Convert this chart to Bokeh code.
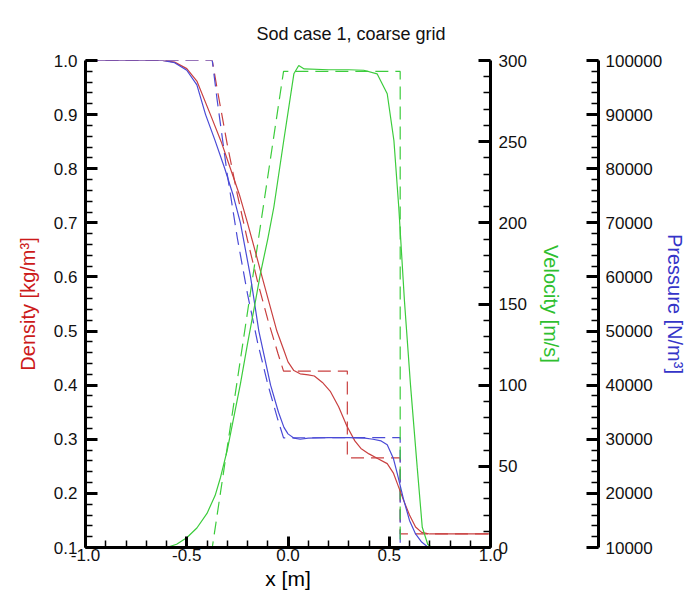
from bokeh.plotting import figure
from bokeh.models import LinearAxis, Range1d, SingleIntervalTicker, FixedTicker, NumeralTickFormatter
from bokeh.embed import file_html
from bokeh.resources import INLINE

TITLE = "Sod case 1, coarse grid"

# ---- exact solution (dashed) ----
x_ex_rho = [-1.0, -0.374, -0.35, -0.3, -0.25, -0.2, -0.15, -0.1, -0.05, -0.022, 0.293, 0.293, 0.554, 0.554, 1.0]
rho_ex = [1.0, 1.0, 0.948, 0.845, 0.752, 0.668, 0.591, 0.5215, 0.459, 0.426, 0.426, 0.2656, 0.2656, 0.125, 0.125]

x_ex_u = [-1.0, -0.374, -0.022, 0.554, 0.554, 1.0]
u_ex = [0.0, 0.0, 293.3, 293.3, 0.0, 0.0]

x_ex_p = [-1.0, -0.374, -0.35, -0.3, -0.25, -0.2, -0.15, -0.1, -0.05, -0.022, 0.554, 0.554, 1.0]
p_ex = [100000, 100000, 92750, 79000, 67150, 56860, 47870, 40200, 33600, 30270, 30313, 10000, 10000]

# ---- numerical solution, coarse grid (solid) ----
x_num_rho = [-1.0, -0.62, -0.56, -0.5, -0.45, -0.383, -0.33, -0.284, -0.24, -0.2, -0.16,
             -0.128, -0.09, -0.055, -0.02, 0.0, 0.029, 0.06, 0.1, 0.13, 0.17, 0.21, 0.25,
             0.29, 0.33, 0.36, 0.40, 0.44, 0.49, 0.52, 0.54, 0.57, 0.60, 0.63, 0.66, 0.70, 1.0]
rho_num = [1.0, 1.0, 0.997, 0.985, 0.962, 0.9, 0.85, 0.8, 0.752, 0.7, 0.645,
           0.6, 0.548, 0.5, 0.464, 0.443, 0.427, 0.421, 0.419, 0.417, 0.405, 0.388, 0.36,
           0.325, 0.297, 0.283, 0.273, 0.265, 0.255, 0.238, 0.218, 0.188, 0.16, 0.138, 0.128, 0.125, 0.125]

x_num_u = [-1.0, -0.6, -0.55, -0.5, -0.45, -0.4, -0.36, -0.333, -0.3, -0.284, -0.235, -0.2, -0.16,
           -0.136, -0.1, -0.07, -0.021, 0.029, 0.053, 0.08, 0.2, 0.3, 0.374, 0.44, 0.49,
           0.523, 0.547, 0.575, 0.605, 0.638, 0.663, 0.69, 0.71, 1.0]
u_num = [0.0, 0.0, 2.0, 6.0, 12.0, 21.0, 32.0, 43.3, 60.0, 70.0, 100.8, 125.5, 152.2,
         168.8, 190.0, 209.6, 250.7, 291.8, 296.9, 294.8, 294.3, 294.3, 294.0, 291.8, 279.5,
         250.7, 209.6, 152.0, 100.0, 49.5, 12.5, 2.0, 0.0, 0.0]

x_num_p = [-1.0, -0.62, -0.56, -0.5, -0.45, -0.407, -0.36, -0.312, -0.27, -0.235, -0.185,
           -0.144, -0.086, -0.047, -0.02, 0.0, 0.03, 0.06, 0.1, 0.2, 0.3, 0.38, 0.42,
           0.46, 0.49, 0.52, 0.54, 0.57, 0.60, 0.63, 0.66, 0.69, 0.72, 1.0]
p_num = [100000, 100000, 99600, 98200, 95500, 90000, 85200, 80000, 75000, 70000, 60000,
         50000, 40000, 35000, 32200, 31000, 30200, 30000, 30200, 30300, 30300, 30200, 30000,
         29700, 29000, 26500, 23600, 19000, 15000, 12500, 11000, 10100, 10000, 10000]

# ---- axes ticks ----
x_ticks = [-1.0, -0.5, 0.0, 0.5, 1.0]
x_minor = [-0.9, -0.8, -0.7, -0.6, -0.4, -0.3, -0.2, -0.1, 0.1, 0.2, 0.3, 0.4, 0.6, 0.7, 0.8, 0.9]

RED, GREEN, BLUE = "#c94040", "#3ccc3c", "#4a4ad6"
FONT = "Liberation Sans"

p = figure(frame_width=405, frame_height=487,
           x_range=Range1d(-1.0, 1.0), y_range=Range1d(0.1, 1.0),
           output_backend="svg", toolbar_location=None,
           min_border_left=85, min_border_top=60, min_border_bottom=0, min_border_right=0,
           title=TITLE)
p.extra_y_ranges = {"vel": Range1d(0, 300), "pres": Range1d(10000, 100000)}
p.outline_line_color = None
p.xgrid.grid_line_color = None
p.ygrid.grid_line_color = None
p.background_fill_color = "white"
p.border_fill_color = "white"

p.title.text_font = FONT
p.title.text_font_size = "18px"
p.title.text_font_style = "normal"
p.title.text_color = "#111111"
p.title.align = "left"
p.title.offset = 171
p.title.standoff = 34


def style(ax, maj, mino, label_standoff, lab_standoff):
    ax.axis_line_width = 3
    ax.axis_line_color = "black"
    ax.major_tick_in = maj
    ax.major_tick_out = 0
    ax.minor_tick_in = mino
    ax.minor_tick_out = 0
    ax.major_tick_line_width = 3
    ax.minor_tick_line_width = 1.5
    ax.major_tick_line_color = "black"
    ax.minor_tick_line_color = "black"
    ax.major_label_text_font = FONT
    ax.major_label_text_font_size = "17px"
    ax.major_label_text_color = "#111111"
    ax.major_label_standoff = label_standoff
    ax.axis_label_text_font = FONT
    ax.axis_label_text_font_style = "normal"
    ax.axis_label_text_font_size = "20px"
    ax.axis_label_standoff = lab_standoff


xa = p.xaxis[0]
xa.ticker = FixedTicker(ticks=x_ticks, minor_ticks=x_minor)
xa.formatter = NumeralTickFormatter(format="0.0")
xa.axis_label = "x [m]"
style(xa, 11, 7, 1, 3)
xa.axis_label_text_font_size = "21px"
xa.axis_label_text_color = "black"

ya = p.yaxis[0]
ya.ticker = SingleIntervalTicker(interval=0.1, num_minor_ticks=5)
ya.formatter = NumeralTickFormatter(format="0.0")
ya.axis_label = "Density [kg/m³]"
style(ya, 12, 7, 8, 12)
ya.axis_label_text_color = "#cc1a1a"

va = LinearAxis(y_range_name="vel", axis_label="Velocity [m/s]")
va.ticker = SingleIntervalTicker(interval=50, num_minor_ticks=5)
va.formatter = NumeralTickFormatter(format="0")
style(va, 12, 7, 8, 10)
va.axis_label_text_color = "#2fbf2f"
p.add_layout(va, "right")

sp = LinearAxis(y_range_name="pres", ticker=FixedTicker(ticks=[]), axis_label=" ")
sp.axis_line_color = None
sp.major_tick_line_color = None
sp.minor_tick_line_color = None
sp.axis_label_text_font_size = "10px"
sp.axis_label_standoff = 20
p.add_layout(sp, "right")

pa = LinearAxis(y_range_name="pres", axis_label="Pressure [N/m³]")
pa.ticker = SingleIntervalTicker(interval=10000, num_minor_ticks=5)
pa.formatter = NumeralTickFormatter(format="0")
style(pa, 12, 7, 7, -1)
pa.axis_label_text_color = "#3434c8"
p.add_layout(pa, "right")

# dashed exact solution
p.line(x_ex_rho, rho_ex, line_color=RED, line_width=1.2, line_dash="13 7")
p.line(x_ex_p, p_ex, y_range_name="pres", line_color=BLUE, line_width=1.2, line_dash="13 7")
p.line(x_ex_u, u_ex, y_range_name="vel", line_color=GREEN, line_width=1.2, line_dash="13 7")

# solid numerical solution
p.line(x_num_rho, rho_num, line_color=RED, line_width=1.2)
p.line(x_num_p, p_num, y_range_name="pres", line_color=BLUE, line_width=1.2)
p.line(x_num_u, u_num, y_range_name="vel", line_color=GREEN, line_width=1.2)

open("out.html", "w").write(file_html(p, INLINE))
